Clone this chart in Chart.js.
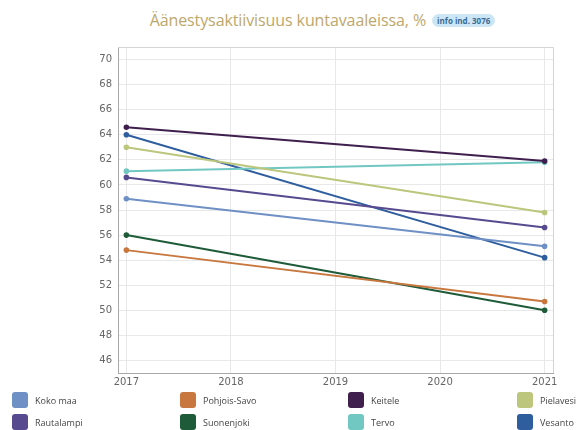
<!DOCTYPE html>
<html>
<head>
<meta charset="utf-8">
<script src="https://cdn.jsdelivr.net/npm/chart.js@4.4.1/dist/chart.umd.min.js"></script>
<style>
  body { margin: 0; width: 579px; height: 430px; background: #fff; font-family: "Open Sans", sans-serif; position: relative; overflow: hidden; }
  #title { position: absolute; top: 9px; left: 0; width: 645px; text-align: center; color: #bda76c; font-size: 16px; letter-spacing: -0.1px; }
  #title .badge { display: inline-block; background: #cde6f5; color: #3a6b96; font-size: 8px; font-weight: bold; border-radius: 8px; padding: 1px 5px; vertical-align: middle; position: relative; top: -1px; margin-left: 2px; letter-spacing: 0; }
  #wrap { position: absolute; left: 0; top: 35px; width: 579px; height: 358px; }
  #legend { position: absolute; left: 12px; top: 392px; display: grid; grid-template-columns: 168px 168px 169px 80px; row-gap: 6px; font-size: 9px; color: #444; }
  #legend .item { display: flex; align-items: center; height: 16px; }
  #legend .box { width: 16px; height: 16px; border-radius: 3px; margin-right: 7px; }
</style>
</head>
<body>
<div id="title">Äänestysaktiivisuus kuntavaaleissa, % <span class="badge">info ind. 3076</span></div>
<div id="wrap"><canvas id="chart"></canvas></div>
<div id="legend"></div>
<script>
var years = [2017, 2021];
var yTicks = [46, 48, 50, 52, 54, 56, 58, 60, 62, 64, 66, 68, 70];
var xTicks = [2017, 2018, 2019, 2020, 2021];

var areas = ['Koko maa', 'Pohjois-Savo', 'Keitele', 'Pielavesi', 'Rautalampi', 'Suonenjoki', 'Tervo', 'Vesanto'];
var colors = ['#6f90c4', '#c8773f', '#3f1f4d', '#bcc67c', '#574a8f', '#1e5b38', '#71c8c2', '#2f5e9f'];

var kokoMaa = [58.9, 55.1];
var pohjoisSavo = [54.8, 50.7];
var keitele = [64.6, 61.9];
var pielavesi = [63.0, 57.8];
var rautalampi = [60.6, 56.6];
var suonenjoki = [56.0, 50.0];
var tervo = [61.1, 61.8];
var vesanto = [64.0, 54.2];

var values = [kokoMaa, pohjoisSavo, keitele, pielavesi, rautalampi, suonenjoki, tervo, vesanto];

var datasets = areas.map(function (name, i) {
    return {
        label: name,
        data: years.map(function (y, j) { return { x: y, y: values[i][j] }; }),
        borderColor: colors[i],
        backgroundColor: colors[i],
        borderWidth: 2,
        pointRadius: 1.8,
        pointHoverRadius: 3
    };
});

// frame around the plot area
var framePlugin = {
    id: 'frame',
    afterDraw: function (chart) {
        var a = chart.chartArea, ctx = chart.ctx;
        ctx.save();
        ctx.strokeStyle = '#d4d4d4';
        ctx.lineWidth = 1;
        ctx.beginPath();
        ctx.moveTo(a.left, a.top + 0.5);
        ctx.lineTo(a.right + 0.5, a.top + 0.5);
        ctx.lineTo(a.right + 0.5, a.bottom);
        ctx.stroke();
        ctx.restore();
    }
};

new Chart(document.getElementById('chart'), {
    type: 'line',
    data: { datasets: datasets },
    options: {
        responsive: true,
        maintainAspectRatio: false,
        animation: false,
        layout: { padding: { left: 78, right: 26, top: 8, bottom: 0 } },
        plugins: {
            legend: { display: false },
            tooltip: { enabled: false }
        },
        scales: {
            x: {
                type: 'linear',
                min: 2016.92,
                max: 2021.08,
                afterBuildTicks: function (scale) {
                    scale.ticks = xTicks.map(function (v) { return { value: v }; });
                },
                afterFit: function (scale) { scale.height = 20; },
                ticks: {
                    color: '#666',
                    font: { family: 'DejaVu Sans', size: 10 },
                    padding: 3,
                    maxRotation: 0,
                    callback: function (v) { return String(v); }
                },
                grid: { color: '#e8e8e8', drawTicks: false },
                border: { color: '#a8a8a8' }
            },
            y: {
                min: 45,
                max: 71,
                afterBuildTicks: function (scale) {
                    scale.ticks = yTicks.map(function (v) { return { value: v }; });
                },
                afterFit: function (scale) { scale.width = 40; },
                ticks: {
                    color: '#666',
                    font: { family: 'DejaVu Sans', size: 10 },
                    padding: 6
                },
                grid: { color: '#e8e8e8', drawTicks: false },
                border: { color: '#a8a8a8' }
            }
        }
    },
    plugins: [framePlugin]
});

var legend = document.getElementById('legend');
areas.forEach(function (name, i) {
    var item = document.createElement('div');
    item.className = 'item';
    var box = document.createElement('span');
    box.className = 'box';
    box.style.background = colors[i];
    item.appendChild(box);
    item.appendChild(document.createTextNode(name));
    legend.appendChild(item);
});
</script>
</body>
</html>
